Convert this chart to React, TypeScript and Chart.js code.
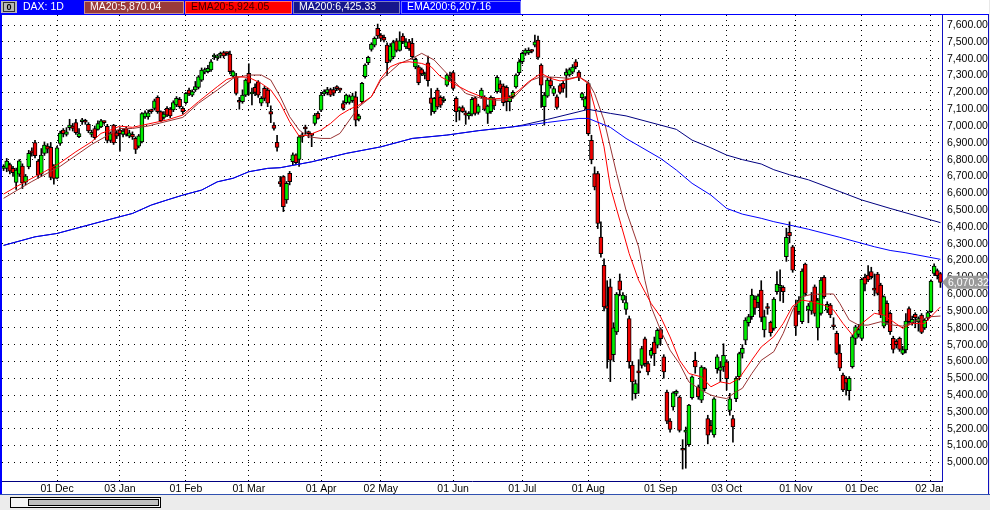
import React, { useEffect, useRef } from 'react';
import { Chart, registerables } from 'chart.js';

Chart.register(...registerables);

// ---- Daily candles (open / high / low / close), one entry per trading day ----
const opens = [
  6748, 6748, 6771, 6748, 6664, 6714, 6761, 6666, 6757, 6845, 6902, 6791, 6714, 6837, 6880, 6873, 6757, 6690, 6896, 6975,
  6950, 6990, 7000, 7020, 6936, 7025, 7030, 7010, 6950, 6985, 6980, 6995, 7025, 6998, 6914, 7005, 6960, 6975, 6950, 6985,
  6940, 6950, 6926, 6880, 6906, 7054, 7054, 7090, 7105, 7170, 7085, 7051, 7105, 7100, 7095, 7125, 7158, 7105, 7139, 7214,
  7184, 7214, 7230, 7273, 7320, 7323, 7333, 7410, 7405, 7420, 7436, 7432, 7428, 7297, 7293, 7145, 7145, 7184, 7313, 7190,
  7230, 7263, 7135, 7224, 7214, 7085, 7006, 6903, 6669, 6699, 6560, 6719, 6788, 6828, 6801, 6935, 6985, 6960, 6948, 7015,
  7075, 7094, 7190, 7198, 7217, 7217, 7225, 7215, 7134, 7138, 7140, 7150, 7174, 7041, 7144, 7293, 7376, 7455, 7481, 7580,
  7540, 7527, 7481, 7390, 7410, 7506, 7450, 7535, 7470, 7500, 7491, 7352, 7352, 7336, 7300, 7376, 7168, 7085, 7214, 7170,
  7150, 7243, 7290, 7317, 7164, 7090, 7110, 7079, 7060, 7071, 7168, 7080, 7174, 7170, 7075, 7085, 7160, 7204, 7250, 7237,
  7230, 7144, 7175, 7233, 7317, 7382, 7432, 7435, 7445, 7480, 7511, 7362, 7115, 7178, 7270, 7194, 7174, 7240, 7253, 7300,
  7303, 7320, 7382, 7320, 7169, 7113, 7252, 6915, 6717, 6717, 6340, 6172, 5930, 6043, 5640, 5776, 6079, 5964, 5909, 5855,
  5578, 5409, 5535, 5577, 5735, 5587, 5636, 5715, 5696, 5790, 5627, 5418, 5245, 5329, 5410, 5388, 5075, 5180, 5105, 5385,
  5607, 5449, 5369, 5557, 5260, 5220, 5163, 5557, 5547, 5567, 5597, 5309, 5260, 5378, 5509, 5648, 5727, 5830, 5866, 5971,
  5950, 6024, 5787, 5918, 5832, 5797, 6015, 6040, 6040, 6223, 6367, 6282, 5929, 5896, 5836, 6179, 5906, 5900, 6044, 5800,
  5886, 6100, 5905, 5935, 5808, 5767, 5650, 5519, 5500, 5426, 5569, 5737, 5760, 5737, 6100, 6114, 6134, 6026, 6120, 6054,
  5810, 5945, 5886, 5737, 5720, 5737, 5648, 5668, 5915, 5830, 5880, 5835, 5876, 5800, 5860, 5896, 6123, 6140, 6123,
];
const highs = [
  6770, 6807, 6780, 6760, 6750, 6800, 6775, 6712, 6855, 6870, 6915, 6800, 6866, 6905, 6895, 6902, 6770, 6880, 6970, 6985,
  6990, 7040, 7015, 7040, 6985, 7045, 7040, 7020, 6975, 7000, 7030, 7040, 7030, 7010, 6965, 7010, 6975, 6990, 6985, 6995,
  6975, 6965, 6935, 6950, 7080, 7090, 7095, 7100, 7160, 7180, 7090, 7085, 7115, 7110, 7150, 7175, 7170, 7115, 7200, 7225,
  7215, 7265, 7300, 7345, 7345, 7360, 7395, 7430, 7425, 7440, 7445, 7440, 7445, 7330, 7313, 7170, 7215, 7280, 7370, 7225,
  7250, 7270, 7175, 7235, 7225, 7120, 7020, 6945, 6700, 6705, 6670, 6730, 6840, 6835, 6945, 6960, 7005, 6970, 6956, 7075,
  7085, 7200, 7215, 7230, 7225, 7230, 7240, 7225, 7150, 7190, 7185, 7195, 7204, 7070, 7260, 7370, 7415, 7495, 7530, 7606,
  7550, 7540, 7495, 7490, 7510, 7520, 7560, 7550, 7520, 7515, 7521, 7405, 7360, 7345, 7320, 7416, 7222, 7170, 7225, 7180,
  7175, 7310, 7320, 7325, 7174, 7115, 7120, 7090, 7085, 7170, 7175, 7130, 7225, 7180, 7125, 7180, 7170, 7300, 7270, 7250,
  7240, 7180, 7210, 7310, 7395, 7440, 7460, 7465, 7455, 7540, 7535, 7370, 7200, 7285, 7290, 7235, 7185, 7250, 7265, 7340,
  7345, 7365, 7395, 7330, 7200, 7175, 7262, 6945, 6757, 6730, 6430, 6210, 6080, 6090, 5830, 6010, 6120, 6010, 5990, 5870,
  5600, 5490, 5610, 5690, 5745, 5600, 5680, 5745, 5795, 5800, 5640, 5430, 5260, 5420, 5430, 5395, 5135, 5210, 5345, 5515,
  5655, 5460, 5575, 5565, 5280, 5250, 5385, 5640, 5600, 5705, 5610, 5410, 5280, 5510, 5655, 5700, 5860, 5880, 6030, 5990,
  6000, 6080, 5905, 5945, 5840, 5980, 6135, 6145, 6050, 6392, 6430, 6290, 5965, 5985, 6150, 6185, 5945, 6010, 6055, 5975,
  6100, 6110, 5955, 5945, 5860, 5780, 5700, 5530, 5510, 5510, 5755, 5815, 5820, 6095, 6120, 6170, 6160, 6120, 6130, 6065,
  5990, 5960, 5895, 5750, 5730, 5745, 5690, 5885, 5925, 5870, 5890, 5865, 5885, 5855, 5900, 6085, 6180, 6150, 6130,
];
const lows = [
  6735, 6728, 6715, 6700, 6623, 6700, 6628, 6650, 6745, 6820, 6810, 6690, 6700, 6825, 6840, 6680, 6654, 6685, 6885, 6935,
  6940, 6975, 6970, 6950, 6930, 7010, 7010, 6960, 6935, 6920, 6975, 6990, 7010, 6900, 6905, 6890, 6925, 6850, 6935, 6940,
  6930, 6920, 6836, 6870, 6900, 7045, 7040, 7075, 7095, 7075, 7025, 7040, 7055, 7050, 7085, 7115, 7105, 7070, 7130, 7180,
  7175, 7205, 7220, 7265, 7310, 7315, 7325, 7395, 7390, 7405, 7405, 7420, 7310, 7290, 7184, 7100, 7135, 7175, 7184, 7125,
  7180, 7170, 7120, 7150, 7115, 7020, 6975, 6850, 6640, 6491, 6540, 6650, 6770, 6770, 6760, 6905, 6950, 6930, 6877, 7005,
  7040, 7085, 7180, 7185, 7175, 7180, 7210, 7200, 7095, 7130, 7130, 7140, 7000, 7030, 7135, 7285, 7365, 7445, 7470, 7520,
  7505, 7500, 7300, 7380, 7400, 7440, 7445, 7490, 7460, 7450, 7396, 7340, 7245, 7300, 7280, 7237, 7065, 7075, 7100, 7110,
  7140, 7235, 7270, 7215, 7025, 7035, 7080, 7010, 7040, 7060, 7065, 7070, 7165, 7090, 7015, 7075, 7100, 7195, 7200, 7120,
  7090, 7090, 7165, 7225, 7305, 7370, 7420, 7425, 7435, 7470, 7396, 7110, 7005, 7170, 7225, 7180, 7100, 7190, 7200, 7170,
  7295, 7310, 7340, 7270, 7155, 7100, 6945, 6775, 6620, 6390, 6220, 5900, 5560, 5480, 5600, 5760, 5990, 5950, 5880, 5560,
  5370, 5380, 5410, 5560, 5570, 5520, 5620, 5575, 5680, 5700, 5500, 5230, 5180, 5310, 5395, 5180, 4960, 4965, 5095, 5375,
  5530, 5375, 5355, 5425, 5110, 5180, 5150, 5530, 5480, 5540, 5430, 5280, 5120, 5360, 5490, 5620, 5700, 5810, 5850, 5880,
  5920, 5836, 5745, 5880, 5750, 5785, 6000, 5960, 5950, 6195, 6305, 6130, 5755, 5880, 5825, 5990, 5830, 5880, 5870, 5727,
  5875, 5975, 5890, 5860, 5790, 5640, 5545, 5420, 5400, 5370, 5560, 5700, 5745, 5725, 6020, 6075, 6090, 5990, 5995, 5860,
  5800, 5820, 5760, 5650, 5680, 5660, 5640, 5650, 5820, 5815, 5800, 5780, 5765, 5790, 5845, 5890, 6110, 6090, 6040,
];
const closes = [
  6752, 6791, 6732, 6722, 6738, 6793, 6662, 6702, 6837, 6840, 6823, 6708, 6827, 6886, 6862, 6694, 6688, 6870, 6958, 6955,
  6965, 7005, 6985, 6960, 6955, 7030, 7022, 6970, 6960, 6930, 7015, 7030, 7020, 6914, 6955, 6900, 6940, 6955, 6970, 6950,
  6960, 6935, 6860, 6942, 7074, 7078, 7078, 7085, 7150, 7085, 7032, 7071, 7065, 7060, 7139, 7164, 7115, 7085, 7194, 7190,
  7204, 7234, 7293, 7333, 7335, 7343, 7382, 7412, 7408, 7425, 7416, 7430, 7323, 7323, 7194, 7141, 7184, 7273, 7254, 7200,
  7200, 7184, 7164, 7164, 7135, 7071, 6986, 6873, 6655, 6521, 6659, 6669, 6828, 6782, 6936, 6945, 6982, 6955, 6944, 7065,
  7045, 7184, 7204, 7217, 7184, 7195, 7222, 7213, 7104, 7184, 7175, 7180, 7035, 7061, 7253, 7362, 7408, 7487, 7521, 7535,
  7520, 7511, 7376, 7475, 7496, 7450, 7506, 7501, 7500, 7460, 7412, 7396, 7257, 7309, 7310, 7269, 7134, 7164, 7114, 7124,
  7160, 7303, 7300, 7223, 7085, 7110, 7085, 7065, 7075, 7158, 7075, 7120, 7213, 7099, 7118, 7170, 7120, 7289, 7220, 7138,
  7145, 7170, 7200, 7303, 7382, 7432, 7451, 7450, 7443, 7500, 7408, 7243, 7184, 7273, 7240, 7223, 7110, 7200, 7223, 7320,
  7336, 7350, 7352, 7290, 7193, 7163, 6955, 6800, 6638, 6420, 6241, 5924, 5915, 5607, 5800, 6000, 6023, 5994, 5950, 5597,
  5478, 5468, 5532, 5676, 5587, 5537, 5666, 5646, 5785, 5735, 5537, 5245, 5196, 5413, 5418, 5190, 5072, 5190, 5340, 5508,
  5567, 5389, 5567, 5438, 5161, 5190, 5378, 5627, 5567, 5636, 5498, 5378, 5211, 5500, 5646, 5678, 5846, 5866, 5995, 5916,
  5990, 5862, 5866, 5915, 5771, 5971, 6058, 6050, 6015, 6338, 6346, 6143, 5810, 5965, 6137, 6005, 5930, 5960, 5886, 5965,
  6084, 5985, 5940, 5876, 5806, 5648, 5560, 5430, 5470, 5499, 5747, 5806, 5790, 6088, 6060, 6084, 6104, 6024, 6005, 5876,
  5985, 5836, 5777, 5671, 5700, 5671, 5671, 5840, 5836, 5850, 5860, 5855, 5773, 5846, 5890, 6078, 6167, 6110, 6070.32,
];

// ---- Moving averages: [candle index, value] ----
const ma20Points = [
  [0, 6570], [9, 6670], [18, 6760], [28, 6890], [37, 6985], [41, 6985], [46, 7000], [57, 7051], [62, 7135], [68, 7214],
  [73, 7283], [78, 7303], [82, 7303], [85, 7273], [88, 7174], [91, 7055], [94, 6976], [97, 6936], [101, 6926], [104, 6926],
  [107, 6956], [110, 7035], [113, 7114], [117, 7174], [120, 7273], [123, 7322], [126, 7372], [130, 7402], [133, 7432],
  [137, 7392], [140, 7332], [143, 7273], [147, 7194], [152, 7164], [156, 7154], [159, 7154], [162, 7164], [165, 7223],
  [168, 7273], [171, 7293], [176, 7289], [180, 7283], [183, 7293], [186, 7260], [188, 7193], [191, 7034], [193, 6876],
  [195, 6717], [198, 6499], [202, 6281], [204, 6083], [206, 5924], [209, 5785], [212, 5667], [215, 5587], [218, 5478],
  [222, 5428], [225, 5400], [227, 5389], [230, 5379], [233, 5420], [235, 5440], [238, 5528], [241, 5607], [245, 5658],
  [248, 5767], [251, 5906], [254, 5985], [257, 5999], [261, 6001], [264, 6001], [266, 5945], [269, 5846], [272, 5816],
  [275, 5816], [279, 5836], [283, 5816], [286, 5810], [290, 5840], [293, 5856], [295, 5866], [298, 5870.04],
];
const ema20Points = [
  [0, 6595], [4, 6639], [9, 6689], [13, 6728], [18, 6781], [23, 6847], [28, 6906], [31, 6956], [34, 6976], [37, 6999],
  [41, 6992], [46, 7012], [52, 7036], [57, 7065], [62, 7145], [68, 7234], [71, 7277], [74, 7293], [78, 7289], [82, 7253],
  [85, 7214], [88, 7135], [91, 7025], [94, 6940], [97, 6946], [101, 6976], [104, 7015], [107, 7065], [110, 7099],
  [113, 7124], [117, 7174], [120, 7283], [123, 7352], [126, 7376], [129, 7382], [133, 7372], [136, 7352], [139, 7293],
  [142, 7263], [145, 7233], [148, 7204], [152, 7174], [155, 7160], [158, 7164], [161, 7170], [164, 7213], [167, 7263],
  [171, 7313], [174, 7283], [177, 7268], [180, 7278], [183, 7293], [186, 7252], [188, 7113], [191, 6876], [193, 6638],
  [196, 6440], [199, 6241], [202, 6083], [206, 5944], [209, 5865], [212, 5746], [215, 5607], [218, 5528], [222, 5508],
  [225, 5449], [228, 5478], [231, 5468], [234, 5500], [238, 5608], [241, 5686], [245, 5747], [248, 5826], [251, 5929],
  [254, 5965], [257, 5955], [261, 5935], [264, 5906], [267, 5826], [270, 5757], [273, 5826], [277, 5886], [280, 5876],
  [283, 5836], [286, 5797], [289, 5826], [293, 5826], [296, 5886], [298, 5924.05],
];
const ma200Points = [
  [0, 6290], [10, 6341], [17, 6361], [31, 6431], [41, 6480], [47, 6530], [52, 6560], [57, 6589], [63, 6619], [68, 6668],
  [73, 6689], [78, 6728], [84, 6748], [88, 6752], [98, 6787], [109, 6837], [120, 6876], [130, 6926], [141, 6946],
  [151, 6972], [162, 6995], [165, 7005], [173, 7039], [183, 7085], [186, 7099], [193, 7075], [198, 7060], [209, 7005],
  [214, 6980], [219, 6916], [225, 6870], [230, 6827], [235, 6800], [241, 6774], [245, 6740], [250, 6710], [256, 6680],
  [266, 6610], [273, 6560], [282, 6510], [298, 6425.33],
];
const ema200Points = [
  [0, 6290], [10, 6341], [17, 6361], [31, 6431], [41, 6480], [47, 6530], [52, 6560], [57, 6589], [63, 6619], [68, 6668],
  [73, 6689], [78, 6728], [84, 6748], [88, 6752], [98, 6787], [109, 6837], [120, 6876], [130, 6926], [141, 6946],
  [151, 6972], [162, 6995], [165, 7001], [173, 7021], [183, 7045], [186, 7045], [193, 6992], [198, 6926], [209, 6807],
  [214, 6738], [219, 6659], [225, 6589], [230, 6510], [235, 6476], [241, 6451], [245, 6431], [250, 6411], [256, 6386],
  [266, 6338], [277, 6282], [282, 6260], [287, 6246], [298, 6207.16],
];

// ---- Axis labels ----
const monthTickIndex = [17, 37, 58, 78, 101, 120, 143, 165, 186, 209, 230, 252, 273, 295];
const monthTickLabels = ['01 Dec', '03 Jan', '01 Feb', '01 Mar', '01 Apr', '02 May', '01 Jun', '01 Jul', '01 Aug', '01 Sep', '03 Oct', '01 Nov', '01 Dec', '02 Jan'];
const priceTicks = [5000, 5100, 5200, 5300, 5400, 5500, 5600, 5700, 5800, 5900, 6000, 6100, 6200, 6300, 6400, 6500, 6600, 6700, 6800, 6900, 7000, 7100, 7200, 7300, 7400, 7500, 7600];
const symbolLabel = 'DAX: 1D';

const FONT = '"Liberation Sans", Arial, sans-serif';
const fmt = (v: number) => v.toLocaleString('en-US', { minimumFractionDigits: 2, maximumFractionDigits: 2 });

function sparse(points: number[][], n: number) {
  const arr: (number | null)[] = new Array(n).fill(null);
  points.forEach(([i, v]) => { arr[i] = v; });
  return arr;
}

const framePlugin = {
  id: 'frame',
  afterDraw(chart: any) {
    const { ctx, scales } = chart;
    const W = 990, H = 510;
    ctx.save();
    // right axis panel cover (clips x labels)
    ctx.fillStyle = '#ffffff';
    ctx.fillRect(943, 482, 45, 12);
    // top bar
    ctx.fillStyle = '#ffffff';
    ctx.fillRect(0, 0, W, 14);
    ctx.fillStyle = '#0000ff';
    ctx.fillRect(0, 0, 521, 14);
    ctx.fillRect(0, 14, 989, 1);
    // icon
    ctx.fillStyle = '#b8b8b8';
    ctx.fillRect(1, 1, 16, 12);
    ctx.strokeStyle = '#303030';
    ctx.lineWidth = 1;
    ctx.strokeRect(3.5, 2.5, 11, 9);
    ctx.fillStyle = '#000';
    ctx.font = `bold 9px ${FONT}`;
    ctx.textBaseline = 'middle';
    ctx.textAlign = 'center';
    ctx.fillText('0', 9, 7.5);
    ctx.textAlign = 'left';
    ctx.font = `10.5px ${FONT}`;
    ctx.fillStyle = '#ffffff';
    ctx.fillText(symbolLabel, 23, 7.5);
    const boxes = [
      { x: 84, w: 100, bg: '#9a3a3a', fg: '#ffffff', text: 'MA20:' + fmt(ma20Points[ma20Points.length - 1][1]) },
      { x: 185, w: 107, bg: '#ff0000', fg: '#3a0000', text: 'EMA20:' + fmt(ema20Points[ema20Points.length - 1][1]) },
      { x: 293, w: 107, bg: '#16168c', fg: '#ffffff', text: 'MA200:' + fmt(ma200Points[ma200Points.length - 1][1]) },
      { x: 401, w: 120, bg: '#0000ff', fg: '#ffffff', text: 'EMA200:' + fmt(ema200Points[ema200Points.length - 1][1]) },
    ];
    boxes.forEach((b) => {
      ctx.fillStyle = b.bg;
      ctx.fillRect(b.x, 1, b.w, 13);
      ctx.strokeStyle = 'rgba(255,255,255,0.45)';
      ctx.strokeRect(b.x + 0.5, 1.5, b.w - 1, 12);
      ctx.fillStyle = b.fg;
      ctx.fillText(b.text, b.x + 6, 7.5);
    });
    // left border
    ctx.fillStyle = '#0000ff';
    ctx.fillRect(0, 14, 2, 481);
    // right panel border
    ctx.fillStyle = '#1010c0';
    ctx.fillRect(988, 14, 1, 481);
    ctx.fillStyle = '#e8e8e8';
    ctx.fillRect(989, 0, 1, H);
    // bottom strip
    ctx.fillStyle = '#3050b0';
    ctx.fillRect(0, 494, W, 1);
    ctx.fillStyle = '#ececec';
    ctx.fillRect(0, 495, W, 15);
    ctx.fillStyle = '#f6f6f6';
    ctx.fillRect(10, 497, 151, 11);
    ctx.strokeStyle = '#000';
    ctx.strokeRect(10.5, 497.5, 150, 10);
    ctx.fillStyle = '#c0c0c0';
    ctx.fillRect(28, 499, 131, 7);
    ctx.strokeRect(28.5, 499.5, 130, 6);
    // last price tag
    const last = closes[closes.length - 1];
    const y = scales.y.getPixelForValue(last);
    ctx.fillStyle = '#9a9a9a';
    ctx.beginPath();
    ctx.moveTo(942, y);
    ctx.lineTo(948, y - 6.5);
    ctx.lineTo(988, y - 6.5);
    ctx.lineTo(988, y + 6.5);
    ctx.lineTo(948, y + 6.5);
    ctx.closePath();
    ctx.fill();
    ctx.fillStyle = '#ffffff';
    ctx.font = `10.5px ${FONT}`;
    ctx.fillText(fmt(last), 948, y + 0.5);
    ctx.restore();
  },
};

export default function App() {
  const ref = useRef<HTMLCanvasElement | null>(null);
  useEffect(() => {
    document.body.style.margin = '0';
    const N = closes.length;
    const labels = closes.map((_, i) => String(i));
    const tickMap: Record<number, string> = {};
    monthTickIndex.forEach((idx, k) => { tickMap[idx] = monthTickLabels[k]; });
    const bodyColors = closes.map((c, i) => (c >= opens[i] ? '#00ee00' : '#f00000'));
    const chart = new Chart(ref.current as HTMLCanvasElement, {
      type: 'bar',
      data: {
        labels,
        datasets: [
          { type: 'line', label: 'EMA200', data: sparse(ema200Points, N), borderColor: '#0000ff', borderWidth: 1, pointRadius: 0, spanGaps: true, order: 0 } as any,
          { type: 'line', label: 'MA200', data: sparse(ma200Points, N), borderColor: '#000080', borderWidth: 1, pointRadius: 0, spanGaps: true, order: 1 } as any,
          { type: 'line', label: 'EMA20', data: sparse(ema20Points, N), borderColor: '#ff0000', borderWidth: 1, pointRadius: 0, spanGaps: true, order: 2 } as any,
          { type: 'line', label: 'MA20', data: sparse(ma20Points, N), borderColor: '#993333', borderWidth: 1, pointRadius: 0, spanGaps: true, order: 3 } as any,
          { type: 'bar', label: 'body', data: opens.map((o, i) => [o, closes[i]]), backgroundColor: bodyColors, borderColor: '#000000', borderWidth: 1, borderSkipped: false, barThickness: 4, minBarLength: 2, grouped: false, order: 4 } as any,
          { type: 'bar', label: 'wick', data: lows.map((l, i) => [l, highs[i]]), backgroundColor: '#000000', borderWidth: 0, barThickness: 1, grouped: false, order: 5 } as any,
        ],
      },
      options: {
        responsive: false,
        devicePixelRatio: 1,
        animation: false,
        events: [],
        layout: { padding: { top: 15, left: 2, right: 0, bottom: 0 } },
        plugins: { legend: { display: false }, tooltip: { enabled: false } },
        scales: {
          x: {
            type: 'category',
            offset: true,
            grid: {
              offset: false,
              drawTicks: false,
              color: (c: any) => (tickMap[c.index] !== undefined ? '#000000' : 'rgba(0,0,0,0)'),
              lineWidth: 1,
            },
            border: { display: true, color: '#000080', width: 1, dash: [1, 4] },
            ticks: {
              autoSkip: false,
              maxRotation: 0,
              minRotation: 0,
              padding: 2,
              color: '#000000',
              font: { family: FONT, size: 10.5 },
              callback: (_v: any, idx: number) => tickMap[idx] ?? '',
            },
            afterFit: (s: any) => { s.height = 29; },
          },
          y: {
            type: 'linear',
            position: 'right',
            min: 4889,
            max: 7660,
            grid: { drawTicks: false, color: '#000000', lineWidth: 1 },
            border: { display: true, color: '#1010c0', width: 1, dash: [1, 5] },
            afterBuildTicks: (s: any) => { s.ticks = priceTicks.map((v) => ({ value: v })); },
            ticks: {
              padding: 5,
              color: '#000000',
              font: { family: FONT, size: 10.5 },
              callback: (v: any) => fmt(Number(v)),
            },
            afterFit: (s: any) => { s.width = 48; },
          },
        },
      } as any,
      plugins: [framePlugin],
    });
    return () => chart.destroy();
  }, []);
  return (
    <div style={{ width: 990, height: 510, position: 'relative', background: '#ffffff' }}>
      <canvas ref={ref} width={990} height={510} style={{ display: 'block', width: 990, height: 510 }} />
    </div>
  );
}
